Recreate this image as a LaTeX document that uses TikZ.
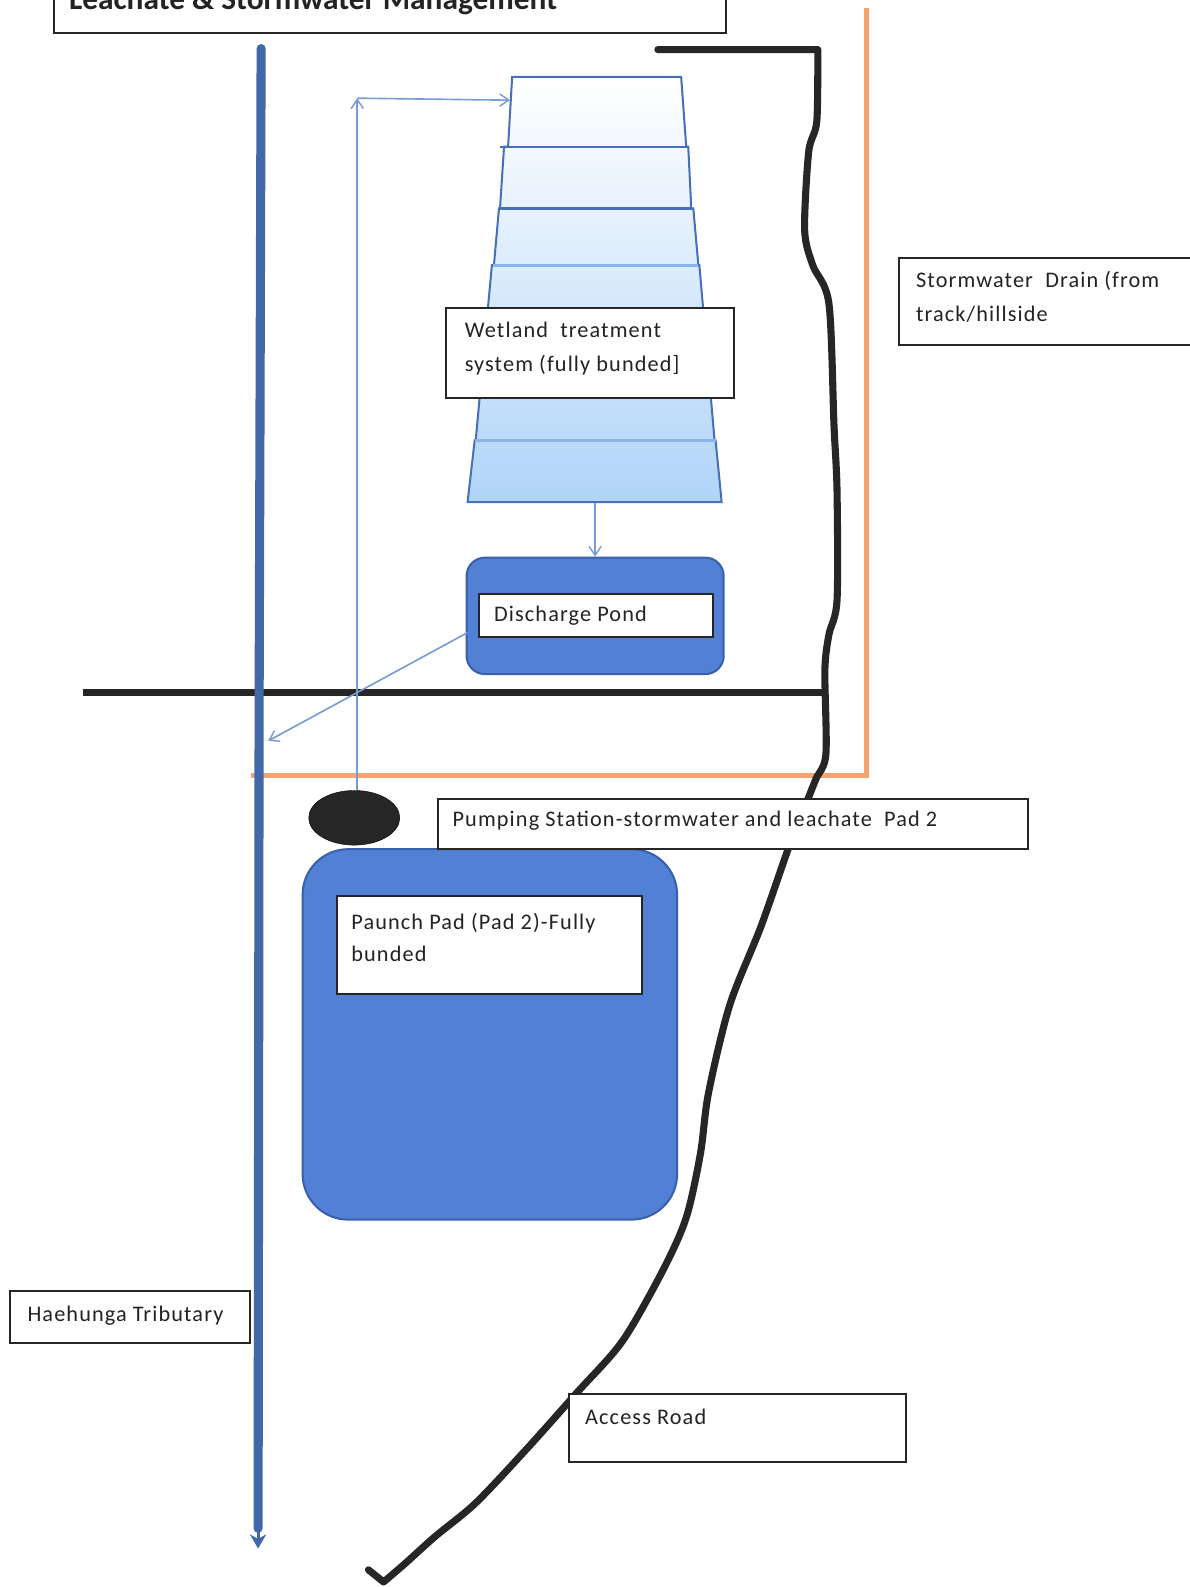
\documentclass[tikz,border=0pt]{standalone}
\usepackage{fontspec}
\setmainfont{Carlito}
\newfontfamily\lblfont[LetterSpace=5]{Carlito}
\usetikzlibrary{arrows.meta,shapes.geometric}
\definecolor{riverblue}{RGB}{66,104,168}
\definecolor{pondfill}{RGB}{82,128,212}
\definecolor{pondedge}{RGB}{56,96,172}
\definecolor{thinblue}{RGB}{118,156,212}
\definecolor{wetedge}{RGB}{72,112,184}
\definecolor{wetlite}{RGB}{140,180,236}
\definecolor{roadblack}{RGB}{38,38,38}
\definecolor{fenceorange}{RGB}{243,164,112}
\definecolor{txt}{RGB}{35,35,35}
\tikzset{
  labelbox/.style={draw=roadblack, fill=white, line width=2pt, inner sep=0pt, anchor=north west},
  lbltext/.style={anchor=base west, inner sep=0pt, text=txt, font=\lblfont\fontsize{22}{26}\selectfont},
  flowarrow/.style={draw=thinblue, line width=1.6pt, -{Straight Barb[length=9pt,width=12pt,line width=1.4pt]}},
  pondstyle/.style={draw=pondedge, fill=pondfill, line width=2pt, inner sep=0pt, anchor=north west},
  blackline/.style={draw=roadblack, line width=7pt},
}
\begin{document}
\begin{tikzpicture}[x=1pt,y=-1pt]
\useasboundingbox (0,0) rectangle (1175,1568);
\fill[white] (0,0) rectangle (1175,1568);

% title box (cut off at top)
\node[labelbox, minimum width=664pt, minimum height=60pt] (titlebox) at (52,-28) {};
\node[anchor=base west, inner sep=0pt, text=txt, font=\bfseries\fontsize{31}{36}\selectfont] (titletext) at (68,9) {Leachate \& Stormwater Management};

% orange boundary
\draw[draw=fenceorange, line width=5pt, line join=miter] (856,8) -- (856,766) -- (248,766);

% black horizontal line
\draw[blackline] (82,684) -- (818,684);

% river
\coordinate (rivertop) at (258,48);
\coordinate (riverend) at (255,1530);
\draw[draw=riverblue, line width=9pt, line cap=round] (rivertop) -- (256,700) -- (255,1510);
\draw[draw=riverblue, line width=3pt, -{Stealth[length=14pt,width=16pt]}] (255,1500) -- (riverend);
\coordinate (riverin) at (265,732);

% stormwater drain / access road curve
\draw[draw=roadblack, line width=7pt, line join=round, line cap=round]
  (650,49) -- (808,49)
  plot[smooth, tension=0.5] coordinates {(808,49) (807,120) (799,150) (795,227) (803,262) (819,300) (824,420) (827,485) (827,593) (819,627) (815,662) (816,745) (806,770) (794,800) (779,838) (752,915) (721,993) (700,1080) (692,1140) (678,1203) (655,1255) (615,1325) (570,1376) (520,1432) (470,1485) (430,1518) (400,1545) (379,1563)}
  -- (364,1551);

% wetland treatment system
\shade[top color=white, bottom color={rgb,255:red,176;green,212;blue,248}]
  (506,76) -- (673,76) -- (678,145) -- (680,145) -- (683,206) -- (685,206) -- (690,262) -- (691,262) -- (706,435) -- (707,435) -- (713,496)
  -- (462,496) -- (469,435) -- (470,435) -- (486,262) -- (488,262) -- (493,206) -- (494,206) -- (498,145) -- (502,145) -- cycle;
\draw[draw=wetedge, line width=2pt, line join=miter]
  (506,76) -- (673,76) -- (678,145) -- (680,145) -- (683,206) -- (685,206) -- (690,262) -- (691,262) -- (706,435) -- (707,435) -- (713,496)
  -- (462,496) -- (469,435) -- (470,435) -- (486,262) -- (488,262) -- (493,206) -- (494,206) -- (498,145) -- (502,145) -- cycle;
\draw[draw=wetedge, line width=2pt] (494,145) -- (680,145);
\draw[draw=wetedge, line width=2pt] (493,206) -- (684,206);
\draw[draw=wetlite, line width=3pt] (487,262) -- (690,262);
\draw[draw=wetlite, line width=3pt] (469,435) -- (707,435);
\coordinate (wetin) at (504,99);
\coordinate (wetout) at (588,497);

\node[labelbox, minimum width=284pt, minimum height=89pt] (wetbox) at (440,303) {};
\node[lbltext] (wettext1) at (459,333) {Wetland\ \ treatment};
\node[lbltext] (wettext2) at (459,367) {system (fully bunded]};

% discharge pond
\node[pondstyle, rounded corners=18pt, minimum width=254pt, minimum height=115pt] (pond) at (460,550) {};
\node[labelbox, minimum width=231pt, minimum height=42pt] (pondbox) at (472,586) {};
\node[lbltext] (pondtext) at (488,614) {Discharge Pond};
\coordinate (pondout) at (462,625);

% flows
\draw[flowarrow] (wetout) -- (pond.north -| wetout);
\draw[flowarrow] (pondout) -- (riverin);

% pumping station
\node[draw=black, fill=roadblack, ellipse, minimum width=90pt, minimum height=54pt, inner sep=0pt] (pump) at (350,808) {};
\coordinate (turn) at (353,97);
\draw[flowarrow, line width=1.8pt] (pump.north -| turn) -- (turn);
\draw[flowarrow] (turn) -- (wetin);

% paunch pad
\node[pondstyle, rounded corners=45pt, minimum width=370pt, minimum height=366pt] (pad) at (298,838) {};
\node[labelbox, minimum width=301pt, minimum height=97pt] (padbox) at (332,884) {};
\node[lbltext] (padtext1) at (347,918) {Paunch Pad (Pad 2)-Fully};
\node[lbltext] (padtext2) at (347,950) {bunded};

% labels
\node[labelbox, minimum width=583pt, minimum height=50pt] (pumpbox) at (432,788) {};
\node[lbltext] (pumptext) at (447,817) {Pumping Station-stormwater and leachate\ \ Pad 2};

\node[labelbox, minimum width=300pt, minimum height=86pt] (drainbox) at (887,254) {};
\node[lbltext] (draintext1) at (905,284) {Stormwater\ \ Drain (from};
\node[lbltext] (draintext2) at (905,318) {track/hillside};

\node[labelbox, minimum width=237pt, minimum height=51pt] (tribbox) at (9,1275) {};
\node[lbltext] (tribtext) at (27,1306) {Haehunga Tributary};

\node[labelbox, minimum width=333pt, minimum height=67pt] (roadbox) at (561,1376) {};
\node[lbltext] (roadtext) at (578,1407) {Access Road};
\end{tikzpicture}
\end{document}
